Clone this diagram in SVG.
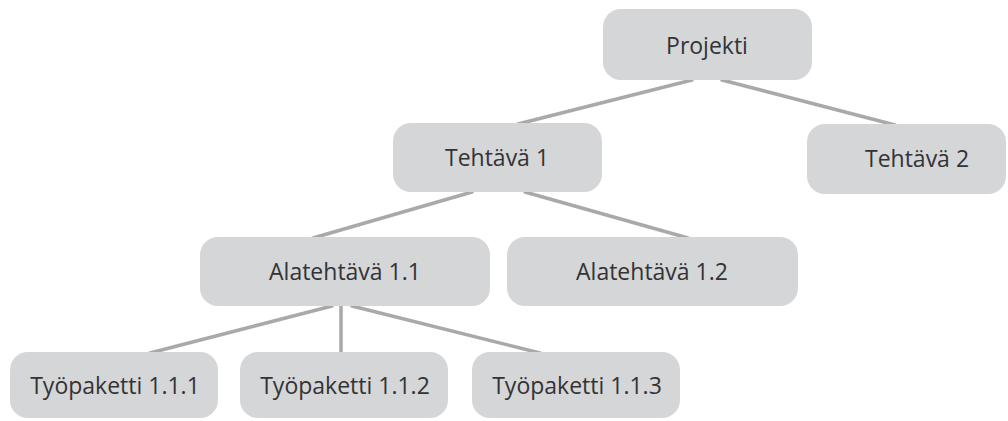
<svg xmlns="http://www.w3.org/2000/svg" width="1008" height="421" viewBox="0 0 1008 421">
<style>
.box{fill:#d5d6d8}
.lbl{font-family:"Open Sans","Noto Sans",sans-serif;font-size:23px;font-weight:500;fill:#333336;text-anchor:middle}
.con line{stroke:#a9a9ab;stroke-width:3.5;stroke-linecap:round}
</style>
<rect width="1008" height="421" fill="#ffffff"/>
<g id="connectors" class="con">
<line x1="692" y1="80" x2="518" y2="124"/>
<line x1="722" y1="80" x2="895" y2="125"/>
<line x1="472" y1="192" x2="313" y2="238"/>
<line x1="525" y1="192" x2="688" y2="238"/>
<line x1="332" y1="306" x2="150" y2="353"/>
<line x1="341" y1="306" x2="341" y2="353"/>
<line x1="352" y1="306" x2="540" y2="353"/>
</g>
<g id="projekti"><rect class="box" x="603" y="9" width="209" height="71" rx="18"/><text class="lbl" x="707" y="54">Projekti</text></g>
<g id="tehtava1"><rect class="box" x="393" y="123" width="209" height="69" rx="18"/><text class="lbl" x="497" y="166">Tehtävä 1</text></g>
<g id="tehtava2"><rect class="box" x="807" y="124" width="199" height="70" rx="18"/><text class="lbl" x="917" y="167">Tehtävä 2</text></g>
<g id="alatehtava11"><rect class="box" x="200" y="237" width="290" height="69" rx="18"/><text class="lbl" x="345" y="280">Alatehtävä 1.1</text></g>
<g id="alatehtava12"><rect class="box" x="507" y="237" width="291" height="69" rx="18"/><text class="lbl" x="652" y="280">Alatehtävä 1.2</text></g>
<g id="tp111"><rect class="box" x="10" y="352" width="208" height="66" rx="18"/><text class="lbl" x="115" y="394">Työpaketti 1.1.1</text></g>
<g id="tp112"><rect class="box" x="240" y="352" width="208" height="66" rx="18"/><text class="lbl" x="345" y="394">Työpaketti 1.1.2</text></g>
<g id="tp113"><rect class="box" x="472" y="352" width="208" height="66" rx="18"/><text class="lbl" x="577" y="394">Työpaketti 1.1.3</text></g>
</svg>
